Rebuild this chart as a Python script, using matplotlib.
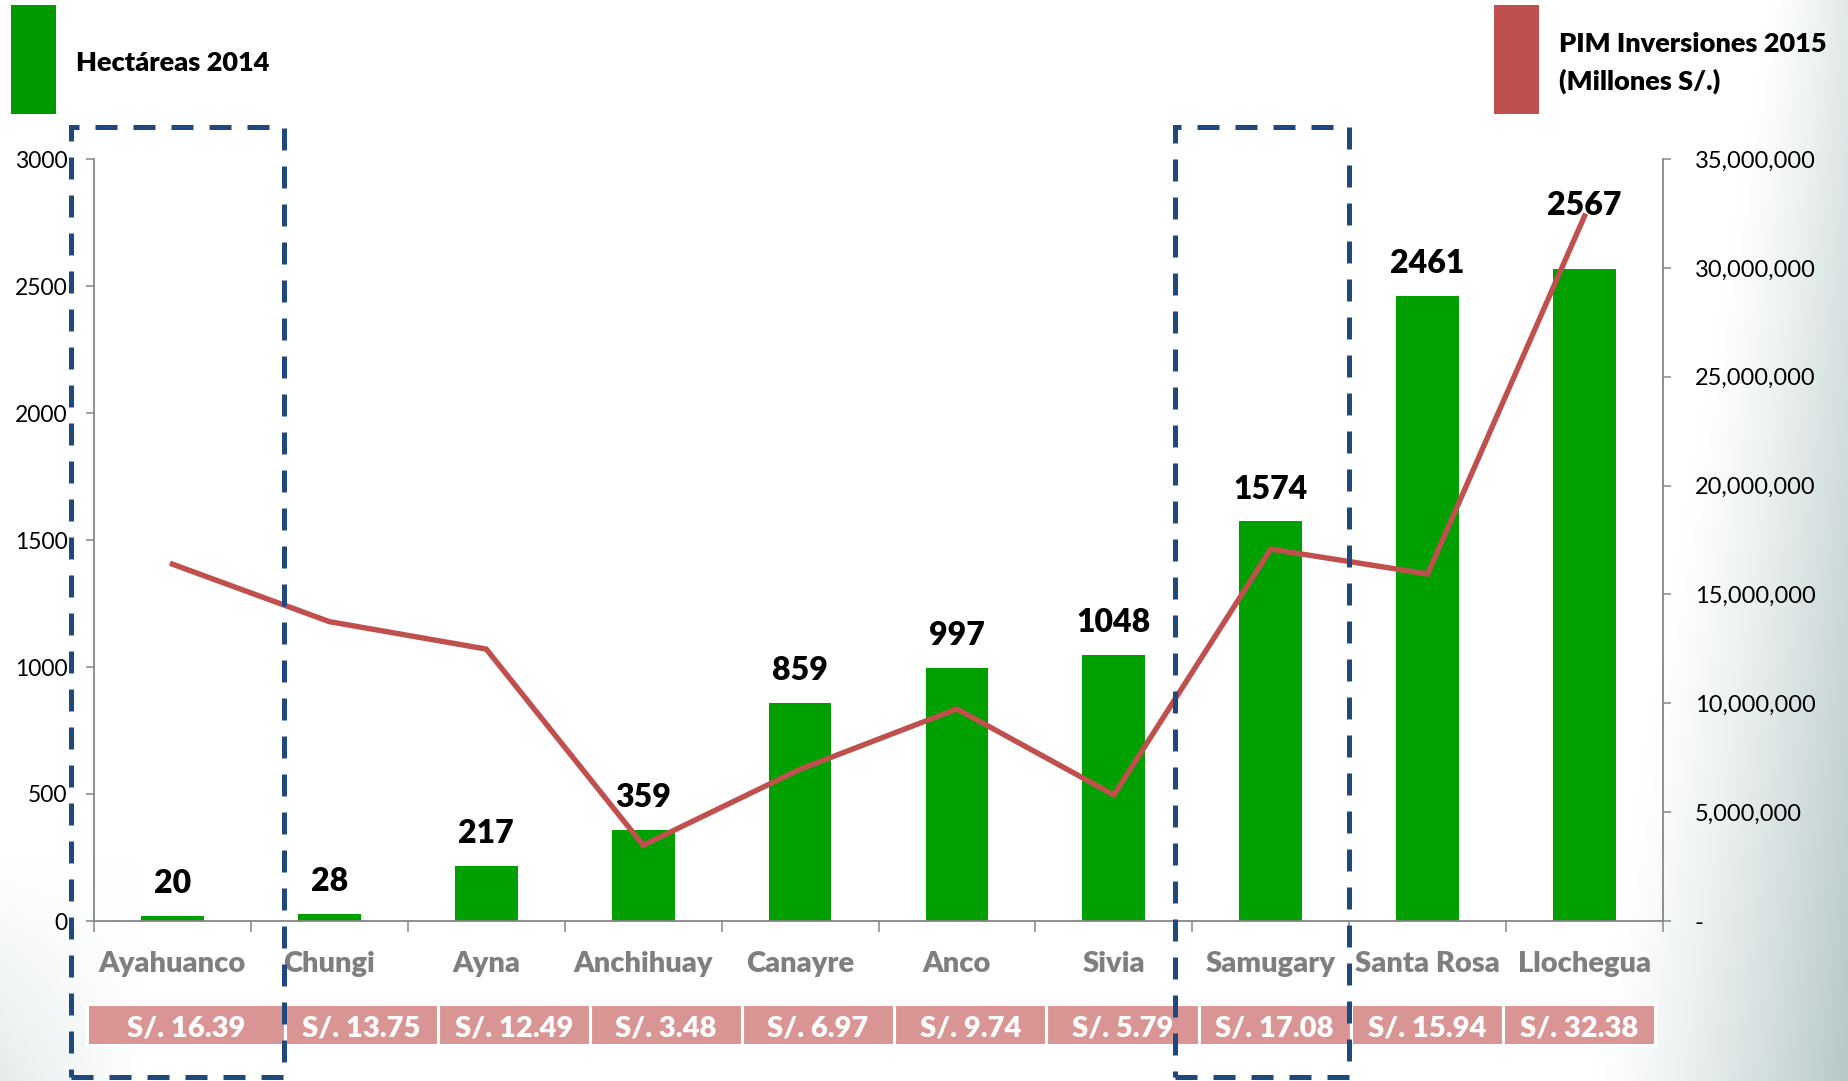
import numpy as np
import matplotlib
matplotlib.use('Agg')
import matplotlib.pyplot as plt
from matplotlib.patches import Rectangle
from matplotlib.ticker import FuncFormatter

plt.rcParams['font.family'] = ['Lato', 'DejaVu Sans']

# ---------------------------------------------------------------------------
# datos
# ---------------------------------------------------------------------------
distritos = ['Ayahuanco', 'Chungi', 'Ayna', 'Anchihuay', 'Canayre',
             'Anco', 'Sivia', 'Samugary', 'Santa Rosa', 'Llochegua']
hectareas = [20, 28, 217, 359, 859, 997, 1048, 1574, 2461, 2567]
pim_millones = [16.39, 13.75, 12.49, 3.48, 6.97, 9.74, 5.79, 17.08, 15.94, 32.38]

VERDE = '#00a000'
ROJO = '#c0504d'
ROSA = '#d99594'
AZUL = '#1f497d'
GRIS = '#868686'
PESO = 'heavy'

W, H = 1848, 1081
fig = plt.figure(figsize=(W / 100, H / 100), dpi=100)

# ---------------------------------------------------------------------------
# fondo con degradado (esquina derecha e inferior izquierda)
# ---------------------------------------------------------------------------
yy, xx = np.mgrid[0:H, 0:W].astype(float)
yd = yy / H
x0 = 1770 - 180 * yd
w_r = np.clip((xx - x0) / (W - x0), 0, 1) ** 1.3 * (0.4 + 0.6 * yd)
w_l = np.clip(1 - xx / 140, 0, 1) * np.clip((yy - 860) / 220, 0, 1) * 0.35
w = np.clip(w_r + w_l, 0, 1)[..., None]
tono = np.array([182, 200, 200]) / 255
bg = (1 - w) * 1.0 + w * tono
ax_bg = fig.add_axes([0, 0, 1, 1], zorder=-5)
ax_bg.imshow(bg, aspect='auto', extent=[0, 1, 0, 1], origin='upper')
ax_bg.axis('off')

# ---------------------------------------------------------------------------
# ejes principales
# ---------------------------------------------------------------------------
left, right, top, bottom = 94, 1663, 159, 921
ax = fig.add_axes([left / W, 1 - bottom / H, (right - left) / W, (bottom - top) / H])
ax.patch.set_visible(False)
x = np.arange(len(distritos))

ax.bar(x, hectareas, width=0.40, color=VERDE, zorder=2)
ax.set_xlim(-0.5, len(distritos) - 0.5)
ax.set_ylim(0, 3000)
ax.set_yticks(np.arange(0, 3001, 500))
ax.set_xticks([])
ax.set_xticks(np.arange(-0.5, len(distritos)), minor=True)
ax.tick_params(axis='x', which='minor', length=8, width=1.1, color=GRIS, direction='out')
ax.tick_params(axis='y', length=6, width=1.1, color=GRIS, pad=13, labelsize=16.5,
               labelcolor='black')
for s in ['top', 'right']:
    ax.spines[s].set_visible(False)
for s in ['left', 'bottom']:
    ax.spines[s].set_color(GRIS)
    ax.spines[s].set_linewidth(1.3)

# etiquetas de distritos y tabla de PIM
tr = ax.get_xaxis_transform()
for i, d in enumerate(distritos):
    ax.text(i, -0.0669, d, transform=tr, ha='center', va='baseline',
            fontsize=21, fontweight=PESO, color='#7f7f7f', clip_on=False)

bordes = [-0.545, 0.72, 1.69, 2.66, 3.63, 4.60, 5.57, 6.54, 7.51, 8.48, 9.45]
cel_top, cel_bot = -0.1089, -0.1627
for i, v in enumerate(pim_millones):
    x_a, x_b = bordes[i], bordes[i + 1]
    ax.add_patch(Rectangle((x_a, cel_bot), x_b - x_a, cel_top - cel_bot, transform=tr,
                           facecolor=ROSA, edgecolor='white', linewidth=2.2,
                           clip_on=False, zorder=3))
    ax.text((x_a + x_b) / 2, -0.1522, f'S/. {v:.2f}', transform=tr, ha='center',
            va='baseline', fontsize=21, fontweight=PESO, color='white',
            clip_on=False, zorder=4)

# valores sobre las barras
desplaz = [16.2] * 9 + [39]
for i, h in enumerate(hectareas):
    ax.annotate(f'{h}', (i, h), xytext=(0, desplaz[i]), textcoords='offset points',
                ha='center', va='baseline', fontsize=23, fontweight=PESO,
                color='black', zorder=5, annotation_clip=False)

# ---------------------------------------------------------------------------
# eje secundario: PIM inversiones
# ---------------------------------------------------------------------------
ax2 = ax.twinx()
ax2.plot(x, np.array(pim_millones) * 1e6, color=ROJO, linewidth=3.9,
         solid_joinstyle='miter', zorder=4)
ax2.set_ylim(0, 35e6)
ax2.set_yticks(np.arange(0, 35e6 + 1, 5e6))
ax2.yaxis.set_major_formatter(FuncFormatter(lambda v, p: '-' if v == 0 else f'{v:,.0f}'))
ax2.tick_params(axis='y', length=6, width=1.1, color=GRIS, pad=17, labelsize=17,
                labelcolor='black')
for s in ['top', 'left', 'bottom']:
    ax2.spines[s].set_visible(False)
ax2.spines['right'].set_color(GRIS)
ax2.spines['right'].set_linewidth(1.3)

# ---------------------------------------------------------------------------
# leyendas
# ---------------------------------------------------------------------------
fig.add_artist(Rectangle((11 / W, 1 - 114 / H), 45 / W, 109 / H,
                         transform=fig.transFigure, facecolor='#009900', edgecolor='none'))
fig.text(76 / W, 1 - 71 / H, 'Hectáreas 2014', fontsize=19.5, fontweight=PESO,
         va='baseline', ha='left')
fig.add_artist(Rectangle((1494 / W, 1 - 114 / H), 45 / W, 109 / H,
                         transform=fig.transFigure, facecolor=ROJO, edgecolor='none'))
fig.text(1559 / W, 1 - 52 / H, 'PIM Inversiones 2015', fontsize=19.5,
         fontweight=PESO, va='baseline', ha='left')
fig.text(1559 / W, 1 - 90 / H, '(Millones S/.)', fontsize=19.5,
         fontweight=PESO, va='baseline', ha='left')

# ---------------------------------------------------------------------------
# recuadros punteados
# ---------------------------------------------------------------------------
for xa, xb in [(71, 284), (1175, 1349)]:
    fig.add_artist(Rectangle((xa / W, 1 - 1077 / H), (xb - xa) / W, (1077 - 127) / H,
                             transform=fig.transFigure, facecolor='none',
                             edgecolor=AZUL, linewidth=3.6,
                             linestyle=(0, (4.4, 3.2)), zorder=10))

fig.savefig('out.png', dpi=100)
